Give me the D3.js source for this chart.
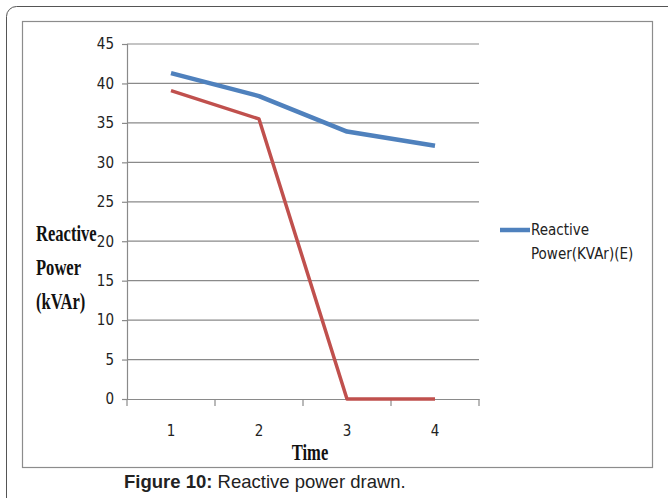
<!DOCTYPE html>
<html lang="en">
<head>
<meta charset="UTF-8" />
<title>Reactive power drawn</title>
<script src="https://d3js.org/d3.v7.min.js"></script>
<style>
    body { margin: 0; background: #fff; }
    svg { display: block; }
    .tick-lbl { font-family: "DejaVu Sans Condensed", "Liberation Sans Narrow", sans-serif; font-stretch: condensed; font-size: 15px; fill: #222; }
    .ttl { font-family: "Liberation Serif", "Times New Roman", serif; font-weight: bold; font-size: 23px; fill: #111; }
    .cap { font-family: "Liberation Sans", Arial, sans-serif; font-size: 18.5px; fill: #222; }
</style>
</head>
<body>
<div id="chart"></div>
<script>
    const times = [1, 2, 3, 4];
    const yTicks = [0, 5, 10, 15, 20, 25, 30, 35, 40, 45];
    const blueValues = [41.3, 38.4, 33.9, 32.1];
    const redValues = [39.1, 35.5, 0, 0];
    const legendLines = ["Reactive", "Power(KVAr)(E)"];

    const W = 668, H = 498;
    const plot = { left: 127, right: 479, top: 44, bottom: 399 };

    const svg = d3.select("#chart").append("svg")
        .attr("width", W).attr("height", H);

    // outer rounded frame + inner chart frame
    svg.append("rect")
        .attr("x", 6.5).attr("y", 6.5).attr("width", 680).attr("height", 520)
        .attr("rx", 10).attr("fill", "none").attr("stroke", "#555").attr("stroke-width", 1);
    svg.append("rect")
        .attr("x", 22.5).attr("y", 21.5).attr("width", 630).attr("height", 446)
        .attr("fill", "#fff").attr("stroke", "#8c8c8c").attr("stroke-width", 1.2);

    const x = d3.scaleBand().domain(times).range([plot.left, plot.right]);
    const y = d3.scaleLinear().domain([0, 45]).range([plot.bottom, plot.top]);

    // gridlines
    svg.append("g").selectAll("line")
        .data(yTicks.filter(d => d > 0))
        .join("line")
        .attr("x1", plot.left).attr("x2", plot.right)
        .attr("y1", d => y(d)).attr("y2", d => y(d))
        .attr("stroke", "#8a8a8a").attr("stroke-width", 1.2);

    // y axis
    const yAxis = svg.append("g")
        .attr("transform", `translate(${plot.left},0)`)
        .call(d3.axisLeft(y).tickValues(yTicks).tickSize(5).tickPadding(8));
    yAxis.select(".domain").attr("stroke", "#8a8a8a").attr("stroke-width", 1.2);
    yAxis.selectAll(".tick line").attr("stroke", "#8a8a8a").attr("stroke-width", 1.2);
    yAxis.selectAll(".tick text").attr("class", "tick-lbl").attr("font-family", null).attr("font-size", null);

    // x axis
    const xAxis = svg.append("g")
        .attr("transform", `translate(0,${plot.bottom})`)
        .call(d3.axisBottom(x).tickSize(0).tickPadding(26));
    xAxis.select(".domain").attr("stroke", "#8a8a8a").attr("stroke-width", 1.2);
    xAxis.selectAll(".tick text").attr("class", "tick-lbl").attr("font-family", null).attr("font-size", null);
    // boundary tick marks between categories
    xAxis.append("g").selectAll("line")
        .data(times.concat([times.length + 1]))
        .join("line")
        .attr("x1", (d, i) => plot.left + i * x.bandwidth())
        .attr("x2", (d, i) => plot.left + i * x.bandwidth())
        .attr("y1", 0).attr("y2", 7)
        .attr("stroke", "#8a8a8a").attr("stroke-width", 1.2);

    const line = d3.line()
        .x((d, i) => x(times[i]) + x.bandwidth() / 2)
        .y(d => y(d));

    svg.append("path").datum(redValues)
        .attr("d", line).attr("fill", "none")
        .attr("stroke", "#c0504d").attr("stroke-width", 3.5).attr("stroke-linejoin", "round");
    svg.append("path").datum(blueValues)
        .attr("d", line).attr("fill", "none")
        .attr("stroke", "#4f81bd").attr("stroke-width", 4.5).attr("stroke-linejoin", "round");

    // legend
    svg.append("line")
        .attr("x1", 500).attr("x2", 530).attr("y1", 230).attr("y2", 230)
        .attr("stroke", "#4f81bd").attr("stroke-width", 4.5);
    svg.append("g").selectAll("text")
        .data(legendLines)
        .join("text")
        .attr("class", "tick-lbl")
        .attr("x", 531).attr("y", (d, i) => 235 + i * 24)
        .text(d => d);

    // axis titles
    const yt = svg.append("text").attr("class", "ttl")
        .attr("transform", "translate(36,0) scale(0.72,1)");
    ["Reactive", "Power", "(kVAr)"].forEach((t, i) => {
        yt.append("tspan").attr("x", 0).attr("y", 241 + i * 34).text(t);
    });
    svg.append("text").attr("class", "ttl")
        .attr("transform", "translate(310,460) scale(0.72,1)")
        .attr("text-anchor", "middle")
        .text("Time");

    // caption
    const cap = svg.append("text").attr("class", "cap").attr("x", 124).attr("y", 488);
    cap.append("tspan").attr("font-weight", "bold").text("Figure 10:");
    cap.append("tspan").text(" Reactive power drawn.");
</script>
</body>
</html>
